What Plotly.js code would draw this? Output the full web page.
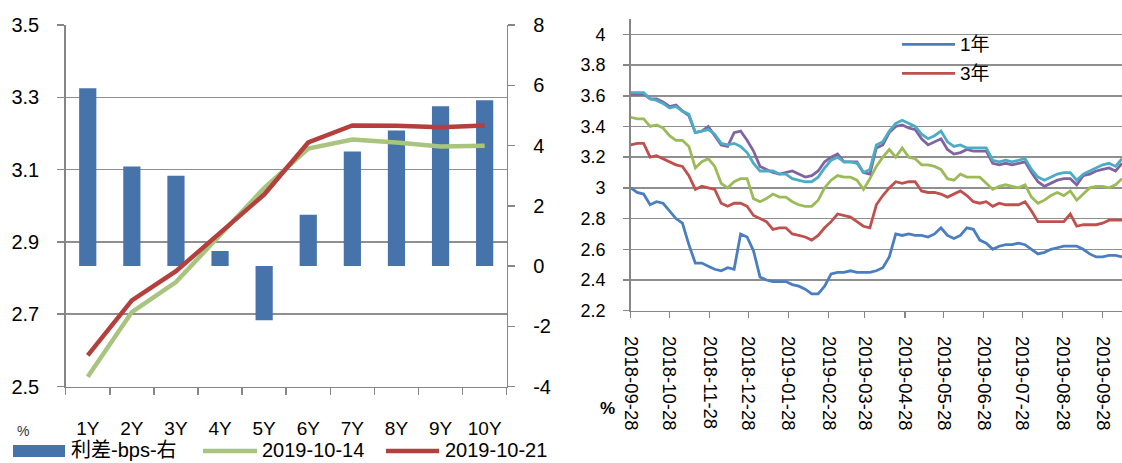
<!DOCTYPE html>
<html>
<head>
<meta charset="utf-8">
<script src="https://cdn.plot.ly/plotly-3.0.1.min.js"></script>
<style>html,body{margin:0;padding:0;background:#fff;}#chart{width:1122px;height:463px;}</style>
</head>
<body>
<div id="chart"></div>
<script>
// ---------- Left chart data ----------
const tenors = ['1Y','2Y','3Y','4Y','5Y','6Y','7Y','8Y','9Y','10Y'];
const spreadBps = [5.9, 3.3, 3.0, 0.5, -1.8, 1.7, 3.8, 4.5, 5.3, 5.5];
const yield1014 = [2.527, 2.706, 2.789, 2.918, 3.049, 3.158, 3.183, 3.175, 3.164, 3.166];
const yield1021 = [2.586, 2.738, 2.819, 2.923, 3.031, 3.175, 3.222, 3.221, 3.217, 3.222];
const leftNames = ['利差-bps-右', '2019-10-14', '2019-10-21'];
const leftTicksL = [2.5, 2.7, 2.9, 3.1, 3.3, 3.5];
const leftTicksR = [-4, -2, 0, 2, 4, 6, 8];

// ---------- Right chart data ----------
const dates = [
 '2018-09-28','2018-10-03','2018-10-08','2018-10-13','2018-10-18','2018-10-23','2018-10-28','2018-11-02','2018-11-07','2018-11-12',
 '2018-11-17','2018-11-22','2018-11-27','2018-12-02','2018-12-07','2018-12-12','2018-12-17','2018-12-22','2018-12-27','2019-01-01',
 '2019-01-06','2019-01-11','2019-01-16','2019-01-21','2019-01-26','2019-01-31','2019-02-05','2019-02-10','2019-02-15','2019-02-20',
 '2019-02-25','2019-03-02','2019-03-07','2019-03-12','2019-03-17','2019-03-22','2019-03-27','2019-04-01','2019-04-06','2019-04-11',
 '2019-04-16','2019-04-21','2019-04-26','2019-05-01','2019-05-06','2019-05-11','2019-05-16','2019-05-21','2019-05-26','2019-05-31',
 '2019-06-05','2019-06-10','2019-06-15','2019-06-20','2019-06-25','2019-06-30','2019-07-05','2019-07-10','2019-07-15','2019-07-20',
 '2019-07-25','2019-07-30','2019-08-04','2019-08-09','2019-08-14','2019-08-19','2019-08-24','2019-08-29','2019-09-03','2019-09-08',
 '2019-09-13','2019-09-18','2019-09-23','2019-09-28','2019-10-03','2019-10-08','2019-10-13'];
const y1 = [3.00,2.97,2.96,2.89,2.91,2.90,2.85,2.80,2.77,2.63,
 2.51,2.51,2.49,2.47,2.46,2.48,2.47,2.70,2.68,2.59,
 2.42,2.40,2.39,2.39,2.39,2.37,2.36,2.34,2.31,2.31,
 2.36,2.44,2.45,2.45,2.46,2.45,2.45,2.45,2.46,2.48,
 2.55,2.70,2.69,2.70,2.69,2.69,2.68,2.70,2.74,2.69,
 2.67,2.69,2.74,2.73,2.66,2.64,2.60,2.62,2.63,2.63,
 2.64,2.63,2.60,2.57,2.58,2.60,2.61,2.62,2.62,2.62,
 2.60,2.57,2.55,2.55,2.56,2.56,2.55];
const y3 = [3.28,3.29,3.29,3.20,3.21,3.19,3.17,3.15,3.14,3.08,
 2.99,3.01,3.00,2.99,2.90,2.88,2.90,2.90,2.88,2.82,
 2.80,2.78,2.73,2.74,2.74,2.70,2.69,2.68,2.66,2.69,
 2.74,2.78,2.83,2.82,2.81,2.78,2.75,2.74,2.89,2.95,
 3.00,3.04,3.03,3.04,3.04,2.98,2.97,2.97,2.96,2.94,
 2.96,2.98,2.95,2.91,2.90,2.91,2.88,2.90,2.89,2.89,
 2.89,2.91,2.85,2.78,2.78,2.78,2.78,2.78,2.83,2.75,
 2.76,2.76,2.76,2.77,2.79,2.79,2.79];
const y5 = [3.46,3.45,3.45,3.40,3.41,3.39,3.34,3.31,3.31,3.27,
 3.13,3.17,3.19,3.14,3.03,3.00,3.04,3.06,3.06,2.93,
 2.91,2.93,2.96,2.94,2.94,2.91,2.89,2.88,2.88,2.92,
 3.00,3.05,3.08,3.07,3.07,3.05,2.99,3.06,3.14,3.20,
 3.25,3.20,3.26,3.20,3.19,3.15,3.15,3.14,3.12,3.06,
 3.05,3.09,3.07,3.07,3.07,3.03,2.99,3.01,3.02,3.01,
 3.00,3.02,2.94,2.90,2.92,2.95,2.97,2.95,2.98,2.92,
 2.96,3.00,3.01,3.01,3.00,3.02,3.06];
const y7 = [3.61,3.61,3.61,3.58,3.58,3.56,3.53,3.54,3.50,3.47,
 3.36,3.37,3.40,3.34,3.28,3.27,3.36,3.37,3.31,3.24,
 3.14,3.12,3.10,3.09,3.10,3.11,3.09,3.07,3.08,3.11,
 3.17,3.20,3.22,3.17,3.17,3.17,3.10,3.09,3.26,3.28,
 3.36,3.40,3.41,3.39,3.38,3.32,3.28,3.30,3.32,3.25,
 3.22,3.23,3.25,3.24,3.24,3.24,3.16,3.15,3.16,3.15,
 3.16,3.17,3.10,3.04,3.01,3.03,3.05,3.06,3.06,3.02,
 3.08,3.09,3.11,3.12,3.13,3.11,3.16];
const y10 = [3.62,3.62,3.62,3.58,3.57,3.55,3.52,3.53,3.50,3.48,
 3.36,3.37,3.38,3.35,3.29,3.28,3.29,3.27,3.23,3.16,
 3.11,3.11,3.11,3.09,3.09,3.06,3.05,3.04,3.04,3.07,
 3.13,3.18,3.20,3.17,3.17,3.16,3.10,3.12,3.28,3.30,
 3.37,3.42,3.44,3.42,3.40,3.35,3.32,3.34,3.37,3.30,
 3.27,3.28,3.26,3.26,3.26,3.26,3.18,3.17,3.18,3.17,
 3.18,3.19,3.12,3.07,3.05,3.07,3.09,3.10,3.10,3.05,
 3.09,3.11,3.13,3.15,3.16,3.14,3.19];
const rightNames = ['1年', '3年', '5年', '7年', '10年'];
const rightTickDates = ['2018-09-28','2018-10-28','2018-11-28','2018-12-28','2019-01-28','2019-02-28','2019-03-28',
 '2019-04-28','2019-05-28','2019-06-28','2019-07-28','2019-08-28','2019-09-28'];
const rightTicksY = [2.2,2.4,2.6,2.8,3.0,3.2,3.4,3.6,3.8,4.0];

// ---------- styling ----------
const W = 1122, H = 463;
const px = x => x / W;
const py = y => 1 - y / H;
const FONT = 'Liberation Sans, Arial, Noto Sans CJK SC, sans-serif';
const AX = '#868686';
const GRID = '#8f8f8f';
const C = {bar:'#4673aa', g1014:'#a8c47e', r1021:'#b3403d',
  s1:'#4a7ebf', s3:'#c0504d', s5:'#9bbb59', s7:'#8064a2', s10:'#4bacc6'};

const traces = [
  {type:'bar', x:tenors, y:spreadBps, name:leftNames[0], xaxis:'x', yaxis:'y',
   marker:{color:C.bar}, showlegend:false, hoverinfo:'skip'},
  {type:'scatter', mode:'lines', x:tenors, y:yield1014, name:leftNames[1], xaxis:'x', yaxis:'y2',
   line:{color:C.g1014, width:4.5}, showlegend:false},
  {type:'scatter', mode:'lines', x:tenors, y:yield1021, name:leftNames[2], xaxis:'x', yaxis:'y2',
   line:{color:C.r1021, width:4.5}, showlegend:false},
  {type:'scatter', mode:'lines', x:dates, y:y1, name:rightNames[0], xaxis:'x3', yaxis:'y3', line:{color:C.s1, width:2.8}, showlegend:false},
  {type:'scatter', mode:'lines', x:dates, y:y3, name:rightNames[1], xaxis:'x3', yaxis:'y3', line:{color:C.s3, width:2.8}, showlegend:false},
  {type:'scatter', mode:'lines', x:dates, y:y5, name:rightNames[2], xaxis:'x3', yaxis:'y3', line:{color:C.s5, width:2.8}, showlegend:false},
  {type:'scatter', mode:'lines', x:dates, y:y7, name:rightNames[3], xaxis:'x3', yaxis:'y3', line:{color:C.s7, width:2.8}, showlegend:false},
  {type:'scatter', mode:'lines', x:dates, y:y10, name:rightNames[4], xaxis:'x3', yaxis:'y3', line:{color:C.s10, width:2.8}, showlegend:false}
];

const tickFontL = {family:FONT, size:20, color:'#000'};
const tickFontR = {family:FONT, size:18, color:'#000'};
const legFont = {family:FONT, size:20, color:'#000'};
const LEG_Y = 451;

const layout = {
  width:W, height:H,
  margin:{l:0, r:0, t:0, b:0, pad:0},
  paper_bgcolor:'#fff', plot_bgcolor:'rgba(0,0,0,0)',
  font:{family:FONT, color:'#000'},
  showlegend:false,
  bargap:0.61,
  xaxis:{type:'category', domain:[px(65.7), px(506.7)], range:[-0.5, 9.5], anchor:'y',
    showline:true, linecolor:AX, linewidth:1.5, showgrid:false, zeroline:false,
    ticks:'outside', ticklen:7, tickcolor:AX, tickwidth:1.5, tickson:'boundaries',
    tickfont:{family:FONT, size:19, color:'#000'}, ticklabelstandoff:24},
  yaxis:{domain:[py(386.5), py(25)], range:[-4, 8], side:'right', anchor:'x',
    tickvals:leftTicksR, ticktext:leftTicksR.map(String),
    showline:true, linecolor:AX, linewidth:1.5, showgrid:false, zeroline:false,
    ticks:'outside', ticklen:7, tickcolor:AX, tickwidth:1.5,
    tickfont:tickFontL, ticklabelstandoff:14},
  yaxis2:{overlaying:'y', side:'left', anchor:'x', range:[2.5, 3.5],
    tickvals:leftTicksL, ticktext:leftTicksL.map(v => v.toFixed(1)),
    showline:true, linecolor:AX, linewidth:1.5, showgrid:true, gridcolor:GRID, gridwidth:1.5, zeroline:false,
    ticks:'outside', ticklen:7, tickcolor:AX, tickwidth:1.5,
    tickfont:tickFontL, ticklabelstandoff:14},
  xaxis3:{type:'date', domain:[px(630.7), 1], range:['2018-09-28', '2019-10-13'], anchor:'y3',
    tickvals:rightTickDates, ticktext:rightTickDates, tickangle:90,
    showline:true, linecolor:AX, linewidth:1.5, showgrid:false, zeroline:false,
    ticks:'outside', ticklen:6, tickcolor:AX, tickwidth:1.5,
    tickfont:{family:FONT, size:18.5, color:'#000'}, ticklabelstandoff:14},
  yaxis3:{domain:[py(310.7), py(19)], range:[2.2, 4.1], anchor:'x3',
    tickvals:rightTicksY, ticktext:rightTicksY.map(v => (Math.round(v*10)/10).toString()),
    showline:true, linecolor:AX, linewidth:1.5, showgrid:true, gridcolor:GRID, gridwidth:1.5, zeroline:false,
    ticks:'outside', ticklen:6, tickcolor:AX, tickwidth:1.5,
    tickfont:tickFontR, ticklabelstandoff:14},
  shapes:[
    {type:'rect', xref:'paper', yref:'paper', x0:px(13), x1:px(65), y0:py(LEG_Y+6), y1:py(LEG_Y-6), fillcolor:C.bar, line:{width:0}},
    {type:'line', xref:'paper', yref:'paper', x0:px(203), x1:px(257), y0:py(LEG_Y), y1:py(LEG_Y), line:{color:C.g1014, width:4.5}},
    {type:'line', xref:'paper', yref:'paper', x0:px(386), x1:px(439), y0:py(LEG_Y), y1:py(LEG_Y), line:{color:C.r1021, width:4.5}},
    {type:'line', xref:'paper', yref:'paper', x0:px(902), x1:px(955), y0:py(44.3), y1:py(44.3), line:{color:C.s1, width:2.8}},
    {type:'line', xref:'paper', yref:'paper', x0:px(902), x1:px(955), y0:py(73.3), y1:py(73.3), line:{color:C.s3, width:2.8}}
  ],
  annotations:[
    {xref:'paper', yref:'paper', x:px(69), y:py(LEG_Y-1), text:leftNames[0], showarrow:false, xanchor:'left', yanchor:'middle', font:legFont},
    {xref:'paper', yref:'paper', x:px(260), y:py(LEG_Y-1), text:leftNames[1], showarrow:false, xanchor:'left', yanchor:'middle', font:legFont},
    {xref:'paper', yref:'paper', x:px(443), y:py(LEG_Y-1), text:leftNames[2], showarrow:false, xanchor:'left', yanchor:'middle', font:legFont},
    {xref:'paper', yref:'paper', x:px(958), y:py(44.3), text:rightNames[0], showarrow:false, xanchor:'left', yanchor:'middle', font:{family:FONT, size:19, color:'#000'}},
    {xref:'paper', yref:'paper', x:px(958), y:py(73.3), text:rightNames[1], showarrow:false, xanchor:'left', yanchor:'middle', font:{family:FONT, size:19, color:'#000'}},
    {xref:'paper', yref:'paper', x:px(23), y:py(431), text:'%', showarrow:false, xanchor:'center', yanchor:'middle', font:{family:FONT, size:14, color:'#333'}},
    {xref:'paper', yref:'paper', x:px(607), y:py(408), text:'<b>%</b>', showarrow:false, xanchor:'center', yanchor:'middle', font:{family:FONT, size:17, color:'#000'}}
  ]
};

Plotly.newPlot('chart', traces, layout, {displayModeBar:false, staticPlot:true});
</script>
</body>
</html>
